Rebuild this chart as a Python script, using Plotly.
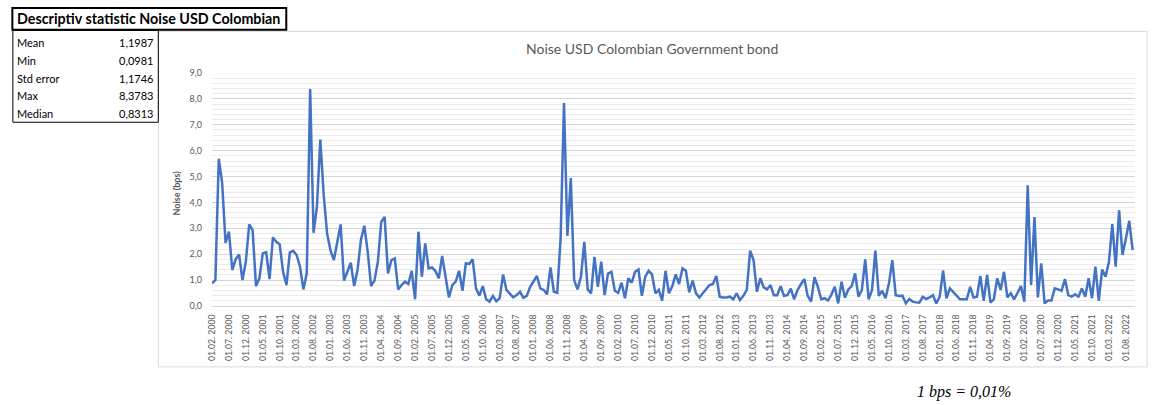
import plotly.graph_objects as go

# Monthly observation dates, 01.02.2000 .. 01.10.2022
months = []
for year in range(2000, 2023):
    for month in range(1, 13):
        if (year == 2000 and month < 2) or (year == 2022 and month > 10):
            continue
        months.append(f"01.{month:02d}. {year}")

# Noise (bps), one value per month
noise = [
    0.87, 1.00, 5.69, 4.76, 2.44, 2.87, 1.39, 1.81, 1.99, 1.00,
    1.72, 3.15, 2.93, 0.77, 1.07, 2.03, 2.08, 1.04, 2.65, 2.48,
    2.38, 1.32, 0.81, 2.07, 2.13, 1.97, 1.52, 0.64, 1.26, 8.38,
    2.83, 3.83, 6.43, 4.30, 2.80, 2.16, 1.77, 2.42, 3.15, 0.98,
    1.32, 1.67, 0.77, 1.39, 2.55, 3.10, 2.10, 0.77, 0.98, 1.71,
    3.25, 3.44, 1.26, 1.77, 1.84, 0.64, 0.81, 0.94, 0.85, 1.36,
    0.26, 2.87, 1.13, 2.42, 1.45, 1.49, 1.35, 1.07, 1.93, 1.07,
    0.33, 0.81, 0.94, 1.36, 0.59, 1.65, 1.62, 1.81, 0.68, 0.40,
    0.77, 0.26, 0.17, 0.39, 0.18, 0.30, 1.22, 0.62, 0.46, 0.33,
    0.42, 0.55, 0.32, 0.39, 0.74, 0.94, 1.16, 0.68, 0.62, 0.45,
    1.49, 0.55, 0.51, 2.60, 7.84, 2.71, 4.94, 1.00, 0.64, 1.13,
    2.48, 0.64, 0.49, 1.90, 0.74, 1.71, 0.42, 1.25, 1.32, 0.59,
    0.51, 0.90, 0.30, 1.07, 0.90, 1.32, 1.41, 0.39, 1.13, 1.36,
    1.22, 0.49, 0.62, 0.21, 1.36, 0.49, 0.77, 1.22, 0.85, 1.45,
    1.36, 0.53, 0.98, 0.49, 0.33, 0.49, 0.64, 0.81, 0.85, 1.16,
    0.36, 0.33, 0.33, 0.36, 0.26, 0.49, 0.23, 0.39, 0.62, 2.14,
    1.77, 0.55, 1.07, 0.72, 0.64, 0.81, 0.42, 0.42, 0.77, 0.39,
    0.42, 0.67, 0.26, 0.62, 0.84, 1.04, 0.39, 0.17, 1.11, 0.74,
    0.26, 0.30, 0.21, 0.44, 0.74, 0.10, 0.94, 0.32, 0.64, 0.77,
    1.26, 0.36, 0.62, 1.80, 0.26, 0.62, 2.14, 0.39, 0.59, 0.30,
    0.87, 1.77, 0.42, 0.39, 0.40, 0.10, 0.27, 0.17, 0.14, 0.13,
    0.36, 0.27, 0.33, 0.42, 0.10, 0.36, 1.37, 0.30, 0.68, 0.55,
    0.42, 0.26, 0.26, 0.26, 0.74, 0.33, 0.36, 1.16, 0.20, 1.20,
    0.13, 0.26, 1.07, 0.62, 1.32, 0.33, 0.49, 0.26, 0.51, 0.77,
    0.17, 4.66, 0.81, 3.44, 0.33, 1.65, 0.10, 0.21, 0.21, 0.68,
    0.64, 0.59, 1.04, 0.42, 0.36, 0.45, 0.36, 0.68, 0.36, 1.07,
    0.30, 1.52, 0.21, 1.41, 1.13, 1.71, 3.16, 1.52, 3.70, 1.97,
    2.60, 3.29, 2.16,
]

# Summary statistics table
stat_names = ["Mean", "Min", "Std error", "Max", "Median"]
stat_values = ["1,1987", "0,0981", "1,1746", "8,3783", "0,8313"]

tick_labels = months[::5]

W, H = 1160, 405
L, R, T, B = 211.7, 1135.0, 72.7, 306.0
PW, PH = R - L, B - T


def px(x):
    return (x - L) / PW


def py(y):
    return (B - y) / PH


TXT = "#595959"
FONT = "Lato"

fig = go.Figure()
fig.add_trace(go.Scatter(
    x=months, y=noise, mode="lines",
    line=dict(color="#4472C4", width=2.5),
    hoverinfo="skip", showlegend=False,
))

fig.update_layout(
    width=W, height=H, autosize=False,
    margin=dict(l=L, r=W - R, t=T, b=H - B, pad=0),
    paper_bgcolor="white", plot_bgcolor="white",
    separators=",.",
    font=dict(family=FONT, color=TXT),
)

fig.update_xaxes(
    type="category",
    range=[0, len(months) - 1 + 0.7],
    tickmode="array", tickvals=tick_labels, ticktext=tick_labels,
    tickangle=-90, tickfont=dict(size=8.7, color=TXT, family=FONT),
    showgrid=False, showline=True, linecolor="#d4d4d4", linewidth=1,
    ticks="", ticklabelstandoff=4, zeroline=False,
)

fig.update_yaxes(
    range=[0, 9.0], dtick=1, tickformat=".1f",
    tickfont=dict(size=9, color=TXT, family=FONT),
    showgrid=True, gridcolor="#d4d4d4", gridwidth=1,
    minor=dict(dtick=0.2, showgrid=True, gridcolor="#ebebeb", gridwidth=1),
    zeroline=False, showline=False, ticks="", ticklabelstandoff=9,
)

shapes = [
    # chart frame
    dict(type="rect", xref="paper", yref="paper",
         x0=px(158), x1=px(1147), y0=py(31), y1=py(367),
         line=dict(color="#d9d9d9", width=1), layer="below"),
    # statistics table frame
    dict(type="rect", xref="paper", yref="paper",
         x0=px(12.5), x1=px(158), y0=py(30), y1=py(122),
         line=dict(color="black", width=1)),
    # table heading frame
    dict(type="rect", xref="paper", yref="paper",
         x0=px(12), x1=px(286), y0=py(7.5), y1=py(29.5),
         line=dict(color="black", width=2)),
]

annotations = [
    dict(text="Noise USD Colombian Government bond", x=px(652), y=py(48),
         xref="paper", yref="paper", showarrow=False,
         font=dict(size=14, color=TXT, family=FONT),
         xanchor="center", yanchor="middle"),
    dict(text="<b>Noise (bps)</b>", x=px(176), y=py(193), textangle=-90,
         xref="paper", yref="paper", showarrow=False,
         font=dict(size=9, color=TXT, family=FONT),
         xanchor="center", yanchor="middle"),
    dict(text="<b>Descriptiv statistic Noise USD Colombian</b>",
         x=px(14.5), y=py(18.5), xref="paper", yref="paper", showarrow=False,
         font=dict(size=14.3, color="black", family=FONT),
         xanchor="left", yanchor="middle"),
    dict(text="<i>1 bps = 0,01%</i>", x=px(915), y=py(392),
         xref="paper", yref="paper", showarrow=False,
         font=dict(size=16, color="black", family="Liberation Serif"),
         xanchor="left", yanchor="middle"),
]

row_y = [42, 60, 78, 95, 113]
for name, val, yy in zip(stat_names, stat_values, row_y):
    annotations.append(dict(
        text=name, x=px(15), y=py(yy), xref="paper", yref="paper",
        showarrow=False, xanchor="left", yanchor="middle",
        font=dict(size=11, color="black", family=FONT)))
    annotations.append(dict(
        text=val, x=px(155), y=py(yy), xref="paper", yref="paper",
        showarrow=False, xanchor="right", yanchor="middle",
        font=dict(size=11, color="black", family=FONT)))

fig.update_layout(shapes=shapes, annotations=annotations)

fig.write_html("out.html")
